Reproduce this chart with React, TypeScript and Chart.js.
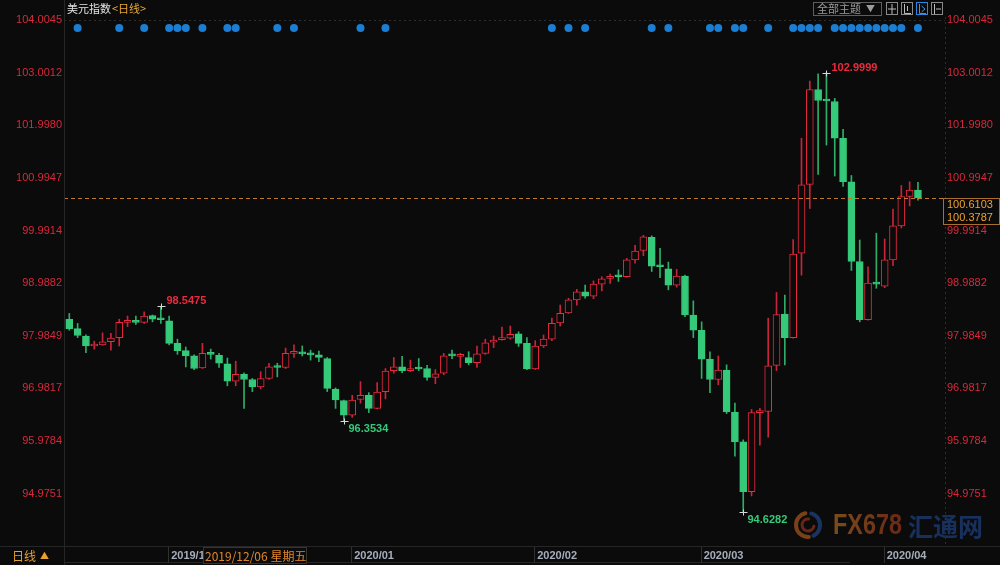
import React, { useEffect, useRef } from 'react';
import { Chart, registerables } from 'chart.js';

Chart.register(...registerables);

// ---- Data (USD index, daily candles 2019/11/14 .. 2020/04/07) ----
const OPEN = [
  98.30, 98.12, 97.98, 97.79, 97.81, 97.87, 97.95, 98.24, 98.25, 98.24,
  98.37, 98.30, 98.27, 97.84, 97.70, 97.60, 97.37, 97.64, 97.61, 97.45,
  97.12, 97.25, 97.15, 97.01, 97.17, 97.40, 97.38, 97.65, 97.66, 97.64,
  97.62, 97.55, 96.97, 96.75, 96.47, 96.77, 96.85, 96.60, 96.92, 97.32,
  97.39, 97.32, 97.37, 97.36, 97.19, 97.27, 97.61, 97.59, 97.57, 97.47,
  97.65, 97.86, 97.91, 97.94, 98.02, 97.84, 97.35, 97.79, 97.92, 98.23,
  98.42, 98.67, 98.82, 98.74, 98.97, 99.08, 99.13, 99.11, 99.43, 99.61,
  99.86, 99.32, 99.26, 98.95, 99.12, 98.38, 98.09, 97.54, 97.15, 97.33,
  96.53, 95.96, 95.01, 96.52, 96.54, 97.42, 98.40, 97.95, 99.56, 100.87,
  102.68, 102.48, 102.45, 101.75, 100.92, 99.40, 98.29, 98.99, 98.93, 99.43,
  100.08, 100.64, 100.76,
];
const HIGH = [
  98.41, 98.22, 98.00, 97.88, 98.04, 98.03, 98.30, 98.36, 98.36, 98.44,
  98.38, 98.5475, 98.36, 97.92, 97.77, 97.62, 97.84, 97.73, 97.65, 97.56,
  97.50, 97.28, 97.17, 97.30, 97.46, 97.46, 97.75, 97.81, 97.79, 97.71,
  97.69, 97.57, 96.99, 96.76, 96.85, 97.11, 96.90, 97.09, 97.36, 97.57,
  97.59, 97.52, 97.55, 97.42, 97.34, 97.65, 97.71, 97.65, 97.68, 97.79,
  97.92, 97.98, 98.15, 98.17, 98.06, 97.95, 97.89, 98.00, 98.32, 98.57,
  98.70, 98.87, 98.95, 99.03, 99.11, 99.16, 99.24, 99.46, 99.71, 99.90,
  99.89, 99.65, 99.39, 99.25, 99.14, 98.65, 98.25, 97.68, 97.60, 97.43,
  96.70, 96.00, 96.58, 96.60, 98.32, 98.81, 98.76, 99.82, 101.75, 102.84,
  102.98, 102.9999, 102.51, 101.92, 101.04, 99.81, 99.30, 99.94, 99.83, 100.40,
  100.85, 100.92, 100.91,
];
const LOW = [
  98.09, 97.95, 97.66, 97.73, 97.80, 97.71, 97.79, 98.16, 98.20, 98.22,
  98.25, 98.22, 97.81, 97.63, 97.39, 97.34, 97.36, 97.54, 97.38, 97.03,
  97.03, 96.60, 96.92, 96.97, 97.15, 97.20, 97.36, 97.57, 97.60, 97.52,
  97.49, 96.92, 96.60, 96.3534, 96.43, 96.70, 96.52, 96.59, 96.78, 97.27,
  97.28, 97.30, 97.32, 97.14, 97.07, 97.24, 97.55, 97.38, 97.43, 97.38,
  97.63, 97.76, 97.90, 97.92, 97.78, 97.34, 97.34, 97.76, 97.89, 98.17,
  98.41, 98.57, 98.70, 98.69, 98.84, 98.98, 99.02, 99.10, 99.37, 99.51,
  99.21, 99.09, 98.86, 98.91, 98.35, 97.95, 97.17, 96.90, 97.05, 96.50,
  95.69, 94.6282, 94.93, 95.90, 96.05, 97.32, 97.43, 97.94, 99.14, 100.41,
  101.06, 101.62, 101.03, 100.83, 99.23, 98.25, 98.28, 98.89, 98.90, 99.32,
  100.04, 100.46, 100.57,
];
const CLOSE = [
  98.12, 97.99, 97.79, 97.80, 97.87, 97.94, 98.24, 98.26, 98.24, 98.36,
  98.30, 98.29, 97.84, 97.70, 97.60, 97.36, 97.65, 97.63, 97.46, 97.12,
  97.25, 97.15, 97.01, 97.17, 97.39, 97.38, 97.65, 97.66, 97.64, 97.62,
  97.57, 96.98, 96.76, 96.47, 96.76, 96.85, 96.60, 96.91, 97.31, 97.39,
  97.32, 97.36, 97.35, 97.19, 97.26, 97.60, 97.60, 97.61, 97.47, 97.64,
  97.85, 97.90, 97.92, 98.01, 97.84, 97.35, 97.79, 97.92, 98.22, 98.41,
  98.67, 98.82, 98.74, 98.97, 99.07, 99.10, 99.11, 99.43, 99.60, 99.87,
  99.31, 99.30, 98.95, 99.12, 98.38, 98.09, 97.54, 97.15, 97.33, 96.53,
  95.96, 95.01, 96.52, 96.53, 97.41, 98.39, 97.95, 99.54, 100.86, 102.68,
  102.47, 102.46, 101.75, 100.92, 99.40, 98.29, 98.99, 98.97, 99.43, 100.08,
  100.64, 100.76, 100.6103,
];

const MONTH_TICK_INDEX = [12, 34, 56, 76, 98];
const MONTH_TICK_LABELS = ['2019/12', '2020/01', '2020/02', '2020/03', '2020/04'];
const PRICE_TICKS = [104.0045, 103.0012, 101.998, 100.9947, 99.9914, 98.9882, 97.9849, 96.9817, 95.9784, 94.9751];
const EVENT_DAYS = [1, 6, 9, 12, 13, 14, 16, 19, 20, 25, 27, 35, 38, 58, 60, 62, 70, 72, 77, 78, 80, 81, 84, 87, 88, 89, 90, 92, 93, 94, 95, 96, 97, 98, 99, 100, 102];
const EXTREME_HIGH_DAYS = [11, 91];
const EXTREME_LOW_DAYS = [33, 81];
const CURSOR_PRICE = 100.3787;
const CURSOR_DAY = 16;
const CURSOR_DATE_LABEL = '2019/12/06 星期五';
const TITLE = '美元指数';
const PERIOD = '<日线>';

// ---- Styles ----
const BG = '#0b0b0b';
const UP = '#ec2a3e';
const DOWN = '#35c97a';
const UP_WICK = '#c8243a';
const DOWN_WICK = '#2eae68';
const AXIS_RED = '#d9283c';
const NUM = '"Liberation Sans", Arial, sans-serif';
const CJK = '"Noto Sans CJK SC", "Liberation Sans", sans-serif';
const Y_MAX = 104.0619;
const Y_MIN = 93.976;
const DOT_LEVEL = 103.852;

const overlay = {
  id: 'overlay',
  afterDatasetsDraw(chart: any) {
    const ctx = chart.ctx as CanvasRenderingContext2D;
    const xs = chart.scales.x;
    const ys = chart.scales.y;
    const a = chart.chartArea;
    ctx.save();
    ctx.strokeStyle = '#2e2e2e';
    ctx.lineWidth = 1;
    ctx.setLineDash([2, 3]);
    const ty = Math.round(ys.getPixelForValue(PRICE_TICKS[0])) + 0.5;
    ctx.beginPath();
    ctx.moveTo(a.left, ty);
    ctx.lineTo(a.right, ty);
    ctx.stroke();
    const last = CLOSE[CLOSE.length - 1];
    const ly = Math.round(ys.getPixelForValue(last)) + 0.5;
    ctx.strokeStyle = '#c27a2c';
    ctx.setLineDash([4, 3]);
    ctx.beginPath();
    ctx.moveTo(a.left, ly);
    ctx.lineTo(a.right, ly);
    ctx.stroke();
    ctx.setLineDash([]);
    const marker = (i: number, v: number) => {
      const x = Math.round(xs.getPixelForValue(i)) + 0.5;
      const y = Math.round(ys.getPixelForValue(v)) + 0.5;
      ctx.strokeStyle = '#d8d8d8';
      ctx.beginPath();
      ctx.moveTo(x - 4, y);
      ctx.lineTo(x + 4, y);
      ctx.moveTo(x, y - 3);
      ctx.lineTo(x, y + 3);
      ctx.stroke();
      return { x, y };
    };
    ctx.font = `bold 11px ${NUM}`;
    ctx.textBaseline = 'middle';
    ctx.textAlign = 'left';
    EXTREME_HIGH_DAYS.forEach((i) => {
      const p = marker(i, HIGH[i]);
      ctx.fillStyle = UP;
      ctx.fillText(HIGH[i].toFixed(4), p.x + 5, p.y - 6);
    });
    EXTREME_LOW_DAYS.forEach((i) => {
      const p = marker(i, LOW[i]);
      ctx.fillStyle = DOWN;
      ctx.fillText(LOW[i].toFixed(4), p.x + 4, p.y + 7);
    });
    ctx.restore();
  },
  afterDraw(chart: any) {
    const ctx = chart.ctx as CanvasRenderingContext2D;
    const xs = chart.scales.x;
    const ys = chart.scales.y;
    const a = chart.chartArea;
    const W = chart.width;
    const H = chart.height;
    ctx.save();
    ctx.lineWidth = 1;
    ctx.strokeStyle = '#262626';
    ctx.beginPath();
    ctx.moveTo(a.left + 0.5, 0);
    ctx.lineTo(a.left + 0.5, H);
    ctx.moveTo(0, a.bottom + 0.5);
    ctx.lineTo(W, a.bottom + 0.5);
    ctx.moveTo(a.left, H - 2.5);
    ctx.lineTo(850, H - 2.5);
    ctx.stroke();
    ctx.setLineDash([2, 3]);
    ctx.strokeStyle = '#2e2e2e';
    ctx.beginPath();
    ctx.moveTo(a.right + 0.5, a.top);
    ctx.lineTo(a.right + 0.5, a.bottom);
    ctx.stroke();
    ctx.setLineDash([]);
    ctx.strokeStyle = '#303030';
    MONTH_TICK_INDEX.forEach((i) => {
      const x = Math.round(xs.getPixelForValue(i)) - 0.5;
      ctx.beginPath();
      ctx.moveTo(x, a.bottom + 1);
      ctx.lineTo(x, H - 2);
      ctx.stroke();
    });
    const cx = Math.round(xs.getPixelForValue(CURSOR_DAY));
    ctx.fillStyle = BG;
    ctx.fillRect(cx + 1, a.bottom + 1, 104, 17);
    ctx.strokeStyle = '#3d3326';
    ctx.strokeRect(cx + 1.5, a.bottom + 1.5, 103, 16);
    ctx.fillStyle = '#e0862a';
    ctx.font = `12px ${CJK}`;
    ctx.textBaseline = 'middle';
    ctx.textAlign = 'left';
    ctx.fillText(CURSOR_DATE_LABEL, cx + 3, a.bottom + 10);
    ctx.fillStyle = '#e8a030';
    ctx.font = `12px ${CJK}`;
    ctx.fillText('日线', 12, a.bottom + 10);
    ctx.font = `9px ${CJK}`;
    ctx.fillText('▲', 40, a.bottom + 10);
    ctx.font = `11px ${CJK}`;
    ctx.fillStyle = '#e4e4e4';
    ctx.fillText(TITLE, 67, 9);
    const tw = ctx.measureText(TITLE).width;
    ctx.fillStyle = '#e8a838';
    ctx.fillText(PERIOD, 67 + tw + 1, 9);
    ctx.strokeStyle = '#5e5e5e';
    ctx.strokeRect(813.5, 2.5, 68, 13);
    ctx.fillStyle = '#9c9c9c';
    ctx.font = `11px ${CJK}`;
    ctx.fillText('全部主题', 817, 9);
    ctx.font = `9px ${CJK}`;
    ctx.fillText('▼', 866, 9);
    [886, 901, 916, 931].forEach((bx, k) => {
      ctx.strokeStyle = k === 2 ? '#2a86e0' : '#8a8a8a';
      ctx.strokeRect(bx + 0.5, 2.5, 11, 12);
      ctx.strokeStyle = k === 2 ? '#3a96f0' : '#bdbdbd';
      ctx.beginPath();
      if (k === 0) {
        ctx.moveTo(bx + 6, 4); ctx.lineTo(bx + 6, 14);
        ctx.moveTo(bx + 2, 9); ctx.lineTo(bx + 10, 9);
      } else if (k === 1) {
        ctx.moveTo(bx + 3.5, 4); ctx.lineTo(bx + 3.5, 13.5); ctx.lineTo(bx + 10, 13.5);
        ctx.moveTo(bx + 6.5, 6); ctx.lineTo(bx + 6.5, 11);
      } else if (k === 2) {
        ctx.moveTo(bx + 3.5, 4); ctx.lineTo(bx + 3.5, 13.5); ctx.lineTo(bx + 10, 13.5);
        ctx.moveTo(bx + 5.5, 6); ctx.lineTo(bx + 9, 9); ctx.lineTo(bx + 5.5, 12);
      } else {
        ctx.moveTo(bx + 3.5, 4); ctx.lineTo(bx + 3.5, 14);
        ctx.moveTo(bx + 5, 9); ctx.lineTo(bx + 10, 9);
      }
      ctx.stroke();
    });
    const last = CLOSE[CLOSE.length - 1];
    const ly = Math.round(ys.getPixelForValue(last));
    ctx.fillStyle = BG;
    ctx.fillRect(a.right - 1, ly, W - a.right + 1, 27);
    ctx.strokeStyle = '#a8702e';
    ctx.strokeRect(a.right - 1.5, ly + 0.5, W - a.right + 1, 26);
    ctx.fillStyle = '#f0a232';
    ctx.font = `11px ${NUM}`;
    ctx.fillText(last.toFixed(4), a.right + 2, ly + 7);
    ctx.fillText(CURSOR_PRICE.toFixed(4), a.right + 2, ly + 20);
    // watermark
    const lx = 808, lyy = 525;
    ctx.lineCap = 'round';
    ctx.lineWidth = 4;
    ctx.strokeStyle = '#1a3462';
    ctx.beginPath();
    ctx.arc(lx, lyy, 12, -1.3, 1.1);
    ctx.stroke();
    ctx.strokeStyle = '#7a4018';
    ctx.beginPath();
    ctx.arc(lx, lyy, 12, 1.5, 4.5);
    ctx.stroke();
    ctx.lineWidth = 3;
    ctx.strokeStyle = '#6a2614';
    ctx.beginPath();
    ctx.arc(lx, lyy, 6, 0.2, 4.8);
    ctx.stroke();
    ctx.lineCap = 'butt';
    ctx.save();
    ctx.translate(833, 526);
    ctx.scale(0.78, 1);
    const g = ctx.createLinearGradient(0, 0, 88, 0);
    g.addColorStop(0, '#7a4c1c');
    g.addColorStop(1, '#6c2814');
    ctx.fillStyle = g;
    ctx.font = `bold 30px ${NUM}`;
    ctx.textBaseline = 'middle';
    ctx.fillText('FX678', 0, 0);
    ctx.restore();
    ctx.fillStyle = '#18305c';
    ctx.font = `bold 25px ${CJK}`;
    ctx.textBaseline = 'middle';
    ctx.fillText('汇通网', 908, 526);
    ctx.restore();
  },
};

export default function App() {
  const ref = useRef<HTMLCanvasElement | null>(null);
  useEffect(() => {
    document.body.style.margin = '0';
    document.body.style.background = BG;
    const canvas = ref.current;
    if (!canvas) return;
    const up = OPEN.map((o, i) => CLOSE[i] >= o);
    const wicks = OPEN.map((_, i) => ({ x: i, y: [LOW[i], HIGH[i]] }));
    const bodies = OPEN.map((o, i) => ({ x: i, y: [o, CLOSE[i]] }));
    const dots = EVENT_DAYS.map((d) => ({ x: d, y: DOT_LEVEL }));
    const yAxis = (position: 'left' | 'right', width: number, pad: number) => ({
      type: 'linear' as const,
      position,
      min: Y_MIN,
      max: Y_MAX,
      grid: { display: false, drawTicks: false },
      border: { display: false },
      afterBuildTicks: (s: any) => {
        s.ticks = PRICE_TICKS.map((v) => ({ value: v }));
      },
      afterFit: (s: any) => {
        s.width = width;
      },
      ticks: {
        padding: pad,
        color: AXIS_RED,
        font: { family: NUM, size: 11 },
        callback: (v: any) => Number(v).toFixed(4),
      },
    });
    const chart = new Chart(canvas, {
      type: 'bar',
      data: {
        datasets: [
          {
            type: 'scatter',
            data: dots,
            pointRadius: 4,
            pointBackgroundColor: '#1b7ed2',
            pointBorderWidth: 0,
            order: 0,
          } as any,
          {
            type: 'bar',
            data: bodies,
            backgroundColor: up.map((u) => (u ? BG : DOWN)),
            borderColor: up.map((u) => (u ? UP : DOWN)),
            borderWidth: 1,
            borderSkipped: false,
            barThickness: 7,
            minBarLength: 2,
            grouped: false,
            order: 1,
          } as any,
          {
            type: 'bar',
            data: wicks,
            backgroundColor: up.map((u) => (u ? UP_WICK : DOWN_WICK)),
            borderWidth: 0,
            barThickness: 1,
            grouped: false,
            order: 2,
          } as any,
        ],
      },
      options: {
        responsive: false,
        animation: false,
        devicePixelRatio: 1,
        events: [],
        layout: { padding: { top: 17, left: 0, right: 0, bottom: 0 } },
        plugins: { legend: { display: false }, tooltip: { enabled: false } },
        scales: {
          x: {
            type: 'linear',
            min: -0.637,
            max: 105.25,
            offset: false,
            grid: { display: false, drawTicks: false },
            border: { display: false },
            afterBuildTicks: (s: any) => {
              s.ticks = MONTH_TICK_INDEX.map((v) => ({ value: v }));
            },
            afterFit: (s: any) => {
              s.height = 19;
            },
            ticks: {
              autoSkip: false,
              maxRotation: 0,
              minRotation: 0,
              align: 'start',
              labelOffset: 2,
              padding: 3,
              color: '#a6aebd',
              font: { family: NUM, size: 11, weight: 'bold' },
              callback: (_v: any, idx: number) => MONTH_TICK_LABELS[idx],
            },
          },
          y: yAxis('right', 55, 2),
          yLeft: yAxis('left', 64, 2),
        },
      } as any,
      plugins: [overlay],
    });
    return () => chart.destroy();
  }, []);
  return (
    <div style={{ position: 'fixed', left: 0, top: 0, width: 1000, height: 565, background: BG }}>
      <canvas ref={ref} width={1000} height={565} style={{ display: 'block' }} />
    </div>
  );
}
